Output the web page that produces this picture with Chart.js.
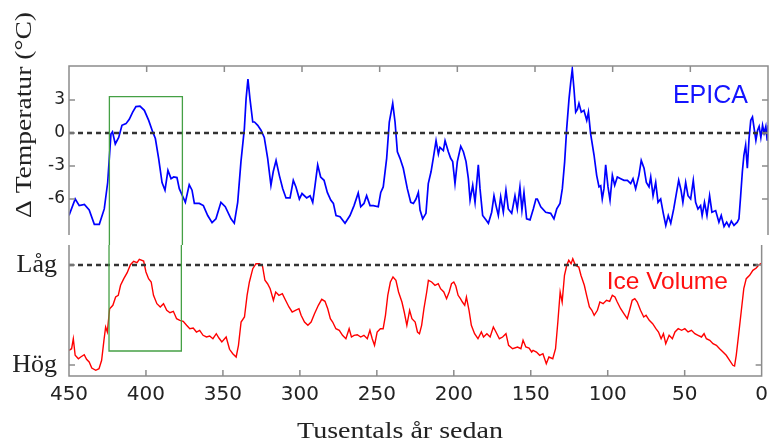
<!DOCTYPE html>
<html><head><meta charset="utf-8">
<script src="https://cdn.jsdelivr.net/npm/chart.js@4"></script>
<style>
html,body{margin:0;padding:0;background:#fff;}
#wrap{position:relative;width:775px;height:441px;background:#fff;}
canvas{position:absolute;left:0;top:0;}
</style></head><body>
<div id="wrap"><canvas id="topc" width="775" height="441"></canvas><canvas id="botc" width="775" height="441"></canvas></div>
<script>
// ---- data (thousands of years ago) ----
const EPICA_AGE = [450,446,443.4,440.1,437,433.7,430.5,427.3,425.1,423,422,420.2,418,415.9,413.3,411.2,409,406.9,404.3,401.5,398.7,396.1,394.4,392.3,390.1,388.2,386.3,384.3,382.6,380.5,379,377.3,375.1,372.6,370.8,369.3,366.1,363.5,360.7,357.9,355.4,352.2,349.4,345.7,343.6,341.4,339.3,337.1,336,334.8,333.5,331.7,330.6,328.5,326.4,324.3,322.1,320,318.5,316.7,314.6,312.4,310.3,307.7,305.6,303.9,301.7,300,297,294.8,293.1,291.6,289.9,288,285.8,283.7,281.5,279.8,278.1,275.5,272.3,269.1,266.5,263.8,262.2,260.1,258.4,256.2,254.1,250.9,249.3,247.7,245.5,243.8,241.6,240.1,238.6,236.9,234.8,232.2,230,228.3,226.6,225.1,224,222.3,220.2,218.7,216.9,215.5,213.7,212.2,211.2,209,207.9,205.8,204.3,203,201.5,200,197.8,196.1,194.4,192.9,191.8,190.1,188.6,186.5,185.4,183.7,181.5,180,177.9,176.4,175.1,173.6,172.1,170.4,168.7,167.2,165,162.9,161.4,159.7,158.4,157.1,155.4,153.2,151.1,149.4,148.5,146.3,143.1,139.9,137.8,136,133.9,132.4,130.9,129.6,128.1,127,126,124.9,123.8,122.7,121.7,120.2,118.5,116.7,115.6,114.2,112,110.3,108.8,107.7,106.7,105.6,104.5,103,101.7,100.2,98.7,97,94.8,92.7,90.5,88.4,86.9,85.2,83.1,81.6,79.8,78.3,76.6,75.5,74,72.3,70.8,69.1,67.4,65.8,64.2,62.6,60.7,59,57.5,56,54.8,53,51.5,49.8,48.1,46.6,45.1,43.4,42.4,40.9,39.3,37.6,36.1,33.7,31.6,30.1,28.3,26.6,25.1,23.6,21.9,19.8,18.7,17.6,16.5,15.5,14.4,13.3,12.2,11.1,10,8.9,7.8,6.7,5.7,4.6,3.5,2.5,1.4,0.5,0];
const EPICA_TEMP = [-7.5,-6.0,-6.6,-6.5,-7.0,-8.3,-8.3,-6.9,-4.5,-0.1,0.1,-1.0,-0.4,0.7,0.85,1.25,1.9,2.4,2.45,2.06,1.15,0.1,-0.5,-2.3,-4.5,-5.2,-3.4,-4.15,-4.0,-4.05,-5.06,-5.6,-6.3,-4.7,-5.2,-6.4,-6.4,-6.6,-7.5,-8.15,-7.8,-6.3,-6.7,-7.8,-8.2,-6.3,-2.6,0.4,3.1,4.9,3.1,1.0,1.0,0.7,0.25,-0.4,-2.3,-4.75,-3.5,-2.5,-3.85,-5.06,-5.9,-5.9,-4.3,-4.9,-6.0,-5.5,-5.9,-5.7,-6.3,-4.75,-2.9,-4.0,-4.3,-5.4,-6.1,-6.4,-7.5,-7.6,-8.2,-7.5,-6.6,-5.45,-6.7,-6.4,-5.7,-6.6,-6.6,-6.7,-5.4,-4.9,-2.3,1.0,2.7,1.0,-1.7,-2.3,-3.2,-5.06,-6.3,-6.4,-6.0,-5.4,-7.0,-7.8,-7.3,-4.6,-3.5,-2.3,-0.7,-1.9,-1.3,-1.6,-0.7,-1.7,-2.3,-2.6,-4.6,-2.6,-1.2,-1.7,-2.6,-4.15,-6.1,-4.75,-6.3,-2.9,-5.06,-7.5,-7.9,-8.2,-7.2,-5.7,-6.6,-7.5,-5.8,-7.2,-5.2,-6.9,-7.3,-5.7,-6.9,-4.9,-7.0,-5.4,-7.8,-7.9,-6.9,-6.0,-6.0,-6.7,-7.2,-7.3,-7.8,-6.9,-6.4,-5.06,-2.6,0.4,3.1,4.6,5.8,4.0,1.9,2.15,2.7,1.9,2.06,1.15,1.9,-0.06,-2.0,-3.85,-4.9,-4.8,-6.0,-5.06,-2.9,-4.9,-6.1,-3.85,-4.75,-4.0,-4.15,-4.3,-4.3,-4.6,-4.15,-5.06,-3.85,-2.5,-3.2,-4.5,-4.9,-4.0,-5.7,-4.5,-6.3,-6.0,-7.3,-8.4,-7.5,-8.2,-6.9,-5.5,-4.3,-5.2,-6.3,-4.5,-5.7,-6.0,-4.3,-6.3,-6.9,-6.6,-7.5,-6.3,-7.5,-5.7,-7.2,-7.05,-8.1,-7.5,-8.5,-8.1,-8.5,-8.0,-8.4,-8.1,-7.8,-5.7,-3.5,-2.0,-1.1,-3.2,-0.5,1.15,1.45,0.4,-0.66,0.25,0.6,-0.4,0.7,0,0.6,-0.7,0.7];

// Ice volume, relative units: 0 = "Låg" (low), 100 = "Hög" (high)
const ICE_AGE = [450,448.3,447.2,446,443.9,442.4,440.1,438.6,436.9,435.2,432.6,430.5,428.8,427.3,426.2,425.1,423.6,421.5,419.7,418,416.5,414.4,412.2,410.1,408,405.8,404.3,401.5,400,398.3,396.6,395.1,392.9,390.7,388.6,386.5,384.4,382.2,380.1,378,375.8,373.6,371.5,369.3,367.2,365.1,362.9,360.7,358.6,356.5,354.3,352.6,350.7,347.9,345.7,343.6,341.4,339.9,338.2,336,334.3,332.8,330.6,328.5,326.3,324.3,322.7,321,319.3,317.2,315.7,313.6,311.4,309.3,307.1,305,302.9,300.6,299.2,297,294.8,292.7,290.5,288,285.8,283.7,281.9,280.2,278.7,276.6,274.4,272.3,270.1,268,266.5,264.8,262.7,260.5,258.4,256.2,254.5,253,251.5,249.8,247.7,245.9,244.4,242.9,241.2,239.5,237.6,235.9,233.7,232.2,230.5,228.7,227.2,225.1,223.6,222.3,220.9,219.4,217.6,216.5,214.4,212.2,210.1,208.6,206.5,204.7,203,201.5,200,198.7,197.2,195.7,194.4,192.9,191.8,190.1,188.6,186.5,184.3,182.1,180.7,178.5,176.4,174.3,172.6,170.4,168.3,166.1,164.4,161.8,158.6,156.4,155,153.2,151.1,149.4,148.5,146.3,144.2,142.1,139.9,138.2,135.7,133.9,132.4,130.9,129.6,128.1,126.6,125.3,123.8,122.7,121,118.8,117.4,115.2,113.7,111.9,110.3,108.8,106.7,105.1,103,100.8,98.7,97,95.3,93.8,91.6,89.5,87.3,85.8,84.1,82.4,80.8,78.7,76.6,75.1,73,70.8,68.7,67,65.3,63.8,62.3,60.1,58,56.3,54.2,52,49.9,47.8,45.6,43.4,41.3,39.1,37.4,35.9,33.7,31.6,29.4,27.3,25.1,23,20.8,18.7,17.6,16.5,15,13.3,11.6,10,7.8,5.7,3.5,1.7,0.6,0];
const ICE_VOL = [85.3,83.7,73.7,90.3,93.7,92,89.7,94.3,97,103,105.3,103.7,95.3,75.3,62,67,43.7,40.3,32,30.3,20.3,13.7,7.7,-0.3,-3.7,-2.3,-5.7,-4,7,13.7,17,30.3,38.7,42,38.7,45.3,47.7,46.3,53.7,55.3,56.3,60.3,63.7,63,67,65.3,70.3,72,71,73.7,68.7,73,77,72,84.3,88.7,92,80.3,57,52,30.3,17,3.7,-1.3,-1.3,1,15.3,18.7,23.7,35.3,27,30.3,28.7,35.3,42,47,45.3,43.7,50.3,57,60.3,57,48.7,40.3,34.3,36.3,43.7,53.7,57,63.7,65.3,70.3,73.7,63.7,72,70.3,69.7,72,70.3,73.7,65.3,73.7,80.3,67,63.7,63.7,50.3,30.3,17,12,15.3,27,37,47,60.3,45.3,53.7,57,67,68.7,60.3,43.7,27,15.3,17,20.3,18.7,23.7,27,33.7,27,18.7,17,21,30.3,33.7,37,40.3,32,45.3,60.3,68.7,73.7,67,72,68.7,72,62,67,73.7,72,68.7,80.3,83.7,82,83.7,75.3,82,83,87,85.3,87,90.3,88.7,98.7,92,93.7,83.7,57,27,37,10.3,0.3,-4.7,-1.3,-6.3,0.3,2,10.3,20.3,30.3,42,45.3,50.3,45.3,37,38.7,35.3,36.3,30.3,32,37,43.7,48.7,53.7,45.3,35.3,33.7,37,45.3,52,50.3,55.3,58.7,63.7,67,73.7,68.7,78.7,70.3,73.7,67,63.7,65.3,63.7,67,65.3,68.7,70.3,72,68.7,73.7,75.3,78.7,80.3,83.7,87,90.3,95.3,100.3,101,90.3,70.3,47,23.7,13.7,10.3,5.3,3,-0.3,-1.3,1];

const X_TICKS = [450,400,350,300,250,200,150,100,50,0];
const TEMP_TICKS = [3,0,-3,-6];
const ICE_TICKS = [0,100];
const ICE_TICK_LABELS = ['Låg','Hög'];
const REF_LINE_AGE = [450,0];
const BOX_AGE = [424,377];
const BOX_TEMP_TOP = 3.3;
const BOX_ICE_BOTTOM = 86;
const EPICA_LABEL_POS = [61.2, 2.73];
const ICE_LABEL_POS = [100.7, 24.3];

const pts = (xs, ys) => xs.map((x,i)=>({x, y: ys[i]}));
const AX = '#8c8c8c', GREEN = '#45a045', TXT = '#222';

Chart.defaults.font.family = 'DejaVu Sans';

const topPlugin = {
  id:'topdeco',
  afterDatasetsDraw(chart){
    const {ctx, chartArea:a, scales:{x,y}} = chart;
    ctx.save();
    ctx.strokeStyle = AX; ctx.lineWidth = 1.5;
    ctx.beginPath();
    ctx.moveTo(a.left, a.bottom); ctx.lineTo(a.left, a.top); ctx.lineTo(a.right, a.top); ctx.lineTo(a.right, a.bottom);
    X_TICKS.forEach(v=>{ if(v===450||v===0) return; const px=x.getPixelForValue(v); ctx.moveTo(px,a.top); ctx.lineTo(px,a.top+6); });
    TEMP_TICKS.forEach(v=>{ const py=y.getPixelForValue(v); ctx.moveTo(a.left,py); ctx.lineTo(a.left+6,py); ctx.moveTo(a.right,py); ctx.lineTo(a.right-6,py); });
    ctx.stroke();
    const x1 = x.getPixelForValue(BOX_AGE[0]), x2 = x.getPixelForValue(BOX_AGE[1]);
    const yt = y.getPixelForValue(BOX_TEMP_TOP);
    ctx.strokeStyle = GREEN; ctx.lineWidth = 1.3;
    ctx.beginPath();
    ctx.moveTo(x1, a.bottom + 10); ctx.lineTo(x1, yt); ctx.lineTo(x2, yt); ctx.lineTo(x2, a.bottom + 10);
    ctx.stroke();
    ctx.fillStyle = '#1414ff';
    ctx.font = '25px "Liberation Sans"';
    ctx.textAlign = 'left'; ctx.textBaseline = 'alphabetic';
    ctx.fillText('EPICA', x.getPixelForValue(EPICA_LABEL_POS[0]), y.getPixelForValue(EPICA_LABEL_POS[1]));
    ctx.fillStyle = TXT;
    ctx.font = '24px "Liberation Serif"';
    const t = 'Δ Temperatur (°C)';
    const w = ctx.measureText(t).width;
    ctx.translate(a.left - 38, 115);
    ctx.rotate(-Math.PI/2);
    ctx.scale(206 / w, 1);
    ctx.textAlign = 'center';
    ctx.fillText(t, 0, 0);
    ctx.restore();
  }
};

const botPlugin = {
  id:'botdeco',
  afterDatasetsDraw(chart){
    const {ctx, chartArea:a, scales:{x,y}} = chart;
    ctx.save();
    ctx.strokeStyle = AX; ctx.lineWidth = 1.5;
    ctx.beginPath();
    ctx.moveTo(a.left, a.top); ctx.lineTo(a.left, a.bottom); ctx.lineTo(a.right, a.bottom); ctx.lineTo(a.right, a.top);
    X_TICKS.forEach(v=>{ if(v===450||v===0) return; const px=x.getPixelForValue(v); ctx.moveTo(px,a.bottom); ctx.lineTo(px,a.bottom-6); });
    ICE_TICKS.forEach(v=>{ const py=y.getPixelForValue(v); ctx.moveTo(a.left,py); ctx.lineTo(a.left+6,py); ctx.moveTo(a.right,py); ctx.lineTo(a.right-6,py); });
    ctx.stroke();
    const x1 = x.getPixelForValue(BOX_AGE[0]), x2 = x.getPixelForValue(BOX_AGE[1]);
    const yb = y.getPixelForValue(BOX_ICE_BOTTOM);
    ctx.strokeStyle = GREEN; ctx.lineWidth = 1.3;
    ctx.beginPath();
    ctx.moveTo(x1, a.top); ctx.lineTo(x1, yb); ctx.lineTo(x2, yb); ctx.lineTo(x2, a.top);
    ctx.stroke();
    ctx.fillStyle = '#ff1010';
    ctx.font = '24.5px "Liberation Sans"';
    ctx.textAlign = 'left'; ctx.textBaseline = 'alphabetic';
    ctx.fillText('Ice Volume', x.getPixelForValue(ICE_LABEL_POS[0]), y.getPixelForValue(ICE_LABEL_POS[1]));
    ctx.fillStyle = TXT;
    ctx.font = '24px "Liberation Serif"';
    const t = 'Tusentals år sedan';
    const w = ctx.measureText(t).width;
    ctx.translate(400, 438);
    ctx.scale(206 / w, 1);
    ctx.textAlign = 'center';
    ctx.fillText(t, 0, 0);
    ctx.restore();
  }
};

const common = {
  responsive:false, animation:false, devicePixelRatio:1,
  plugins:{legend:{display:false}, tooltip:{enabled:false}},
  elements:{point:{radius:0}, line:{tension:0}}
};

new Chart(document.getElementById('topc'), {
  type:'line',
  data:{datasets:[
    {data: pts(REF_LINE_AGE, [0,0]), borderColor:'#333', borderWidth:2.5, borderDash:[5,4], order:0},
    {data: pts(EPICA_AGE, EPICA_TEMP), borderColor:'#0000ff', borderWidth:1.7, order:1}
  ]},
  options:{...common,
    layout:{padding:{top:66,bottom:206,left:0,right:7}},
    scales:{
      x:{type:'linear', min:0, max:450, reverse:true, display:false},
      y:{type:'linear', min:-9.27, max:6.09,
         afterFit(s){ s.width = 69; },
         afterBuildTicks(s){ s.ticks = TEMP_TICKS.map(v=>({value:v})); },
         grid:{display:false, drawTicks:false}, border:{display:false},
         ticks:{font:{family:'DejaVu Sans', size:17}, color:TXT, padding:4, callback:v=>String(v)}}
    }
  },
  plugins:[topPlugin]
});

new Chart(document.getElementById('botc'), {
  type:'line',
  data:{datasets:[
    {data: pts(REF_LINE_AGE, [0,0]), borderColor:'#333', borderWidth:2.5, borderDash:[5,4], order:0},
    {data: pts(ICE_AGE, ICE_VOL), borderColor:'#ff0000', borderWidth:1.4, order:1}
  ]},
  options:{...common,
    layout:{padding:{top:245,bottom:0,left:0,right:7}},
    scales:{
      x:{type:'linear', min:0, max:450, reverse:true,
         afterFit(s){ s.height = 65; },
         afterBuildTicks(s){ s.ticks = X_TICKS.map(v=>({value:v})); },
         grid:{display:false, drawTicks:false}, border:{display:false},
         ticks:{font:{family:'DejaVu Sans', size:20}, color:TXT, padding:7, maxRotation:0, autoSkip:false}},
      y:{type:'linear', min:-20, max:111, reverse:true,
         afterFit(s){ s.width = 69; },
         afterBuildTicks(s){ s.ticks = ICE_TICKS.map(v=>({value:v})); },
         grid:{display:false, drawTicks:false}, border:{display:false},
         ticks:{font:{family:'Liberation Serif', size:26}, color:TXT, padding:12,
                callback:v=>ICE_TICK_LABELS[ICE_TICKS.indexOf(v)]}}
    }
  },
  plugins:[botPlugin]
});
</script>
</body></html>
